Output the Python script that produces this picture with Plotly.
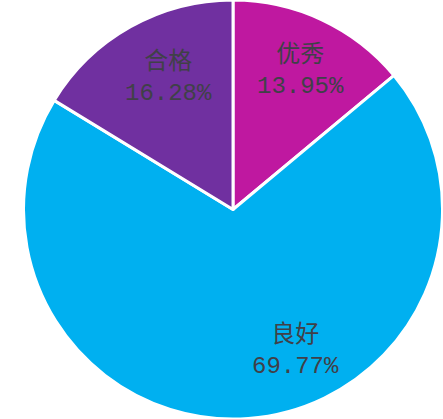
import plotly.graph_objects as go

labels = ["优秀", "良好", "合格"]
values = [13.95, 69.77, 16.28]
colors = ["#BF18A0", "#00B0F0", "#7030A0"]

W, H = 443, 419

fig = go.Figure()
fig.add_trace(go.Pie(
    labels=labels,
    values=values,
    sort=False,
    direction="clockwise",
    rotation=0,
    marker=dict(colors=colors, line=dict(color="white", width=3)),
    textinfo="none",
    hoverinfo="label+percent",
    showlegend=False,
    domain=dict(x=[0.052, 1.0], y=[0.0, 1.0]),
))

# label placement (pixel centres of each label block)
label_px = [(300, 70), (295, 350), (168, 78)]
for lab, val, (px, py) in zip(labels, values, label_px):
    fig.add_annotation(
        x=px / W, y=1 - py / H, xref="paper", yref="paper",
        xanchor="center", yanchor="middle",
        text=f"{lab}<br>{val:.2f}%",
        showarrow=False,
        font=dict(family="Liberation Mono, Noto Sans CJK SC", size=24, color="#404048"),
        align="center",
    )

fig.update_layout(
    width=W, height=H,
    margin=dict(l=0, r=0, t=0, b=0),
    paper_bgcolor="white",
    plot_bgcolor="white",
)

fig.write_html("out.html", config={"displayModeBar": False},
               post_script="document.body.style.margin='0px';")
